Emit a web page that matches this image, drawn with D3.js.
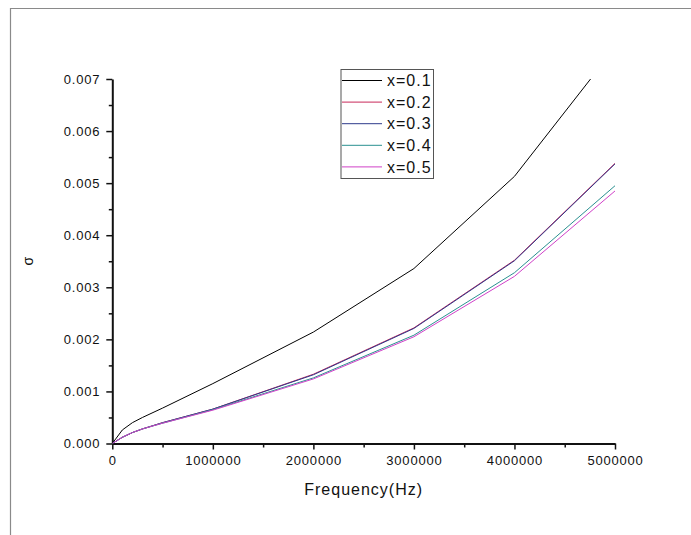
<!DOCTYPE html>
<html>
<head>
<meta charset="utf-8">
<script src="https://cdn.jsdelivr.net/npm/d3@7"></script>
<style>
  html, body { margin: 0; padding: 0; background: #fff; }
  svg text { font-family: "Liberation Sans", Arial, sans-serif; fill: #111; }
</style>
</head>
<body>
<svg id="chart" width="691" height="535"></svg>
<script>
// frequencies (Hz) shared by all series
const freq = [0, 100000, 200000, 300000, 500000, 1000000, 2000000, 3000000, 4000000, 5000000];

// sigma for each composition
const sigma01 = [0, 0.00026, 0.00040, 0.00050, 0.00068, 0.00115, 0.00214, 0.00336, 0.00513, 0.00760];
const sigma02 = [0, 0.00012, 0.00021, 0.00028, 0.00040, 0.00066, 0.00133, 0.00222, 0.00352, 0.00538];
const sigma03 = [0, 0.00012, 0.00021, 0.00028, 0.00040, 0.00066, 0.00132, 0.00221, 0.00351, 0.00537];
const sigma04 = [0, 0.00012, 0.00021, 0.00028, 0.00039, 0.00065, 0.00126, 0.00208, 0.00328, 0.00495];
const sigma05 = [0, 0.00012, 0.00021, 0.00028, 0.00039, 0.00064, 0.00124, 0.00205, 0.00321, 0.00485];

const seriesNames = ['x=0.1', 'x=0.2', 'x=0.3', 'x=0.4', 'x=0.5'];
const seriesValues = [sigma01, sigma02, sigma03, sigma04, sigma05];
const seriesColors = ['#000000', '#c8285a', '#2e3a8c', '#2a9090', '#d040c8'];

const xTicks = [0, 1000000, 2000000, 3000000, 4000000, 5000000];
const yTicks = [0, 0.001, 0.002, 0.003, 0.004, 0.005, 0.006, 0.007];

const svg = d3.select('#chart');

const x = d3.scaleLinear().domain([0, 5000000]).range([112.3, 615]);
const y = d3.scaleLinear().domain([0, 0.007]).range([443.5, 79]);

// screenshot frame (top + left edge)
svg.append('line').attr('x1', 10).attr('y1', 8.5).attr('x2', 691).attr('y2', 8.5)
    .attr('stroke', '#8a8a8a').attr('stroke-width', 1.2);
svg.append('line').attr('x1', 10.5).attr('y1', 8).attr('x2', 10.5).attr('y2', 535)
    .attr('stroke', '#8a8a8a').attr('stroke-width', 1.2);

svg.append('clipPath').attr('id', 'plot-clip')
    .append('rect')
    .attr('x', x(0)).attr('y', y(0.007))
    .attr('width', x(5000000) - x(0)).attr('height', y(0) - y(0.007));

// minor ticks
const xMinor = d3.range(0, 5000001, 500000).filter(v => !xTicks.includes(v));
const yMinor = d3.range(0.0005, 0.007, 0.001);

svg.append('g')
    .attr('transform', `translate(0,${y(0)})`)
    .call(d3.axisBottom(x).tickValues(xMinor).tickSize(4).tickFormat(''))
    .call(g => g.select('.domain').remove())
    .selectAll('line').attr('stroke', '#111').attr('stroke-width', 1.5);

svg.append('g')
    .attr('transform', `translate(${x(0)},0)`)
    .call(d3.axisLeft(y).tickValues(yMinor).tickSize(3.5).tickFormat(''))
    .call(g => g.select('.domain').remove())
    .selectAll('line').attr('stroke', '#111').attr('stroke-width', 1.5);

// major axes
const xAxis = svg.append('g')
    .attr('transform', `translate(0,${y(0)})`)
    .call(d3.axisBottom(x).tickValues(xTicks).tickSize(6).tickSizeOuter(0).tickPadding(6)
        .tickFormat(d3.format('d')));
xAxis.select('.domain').attr('stroke', '#111').attr('stroke-width', 2);
xAxis.selectAll('.tick line').attr('stroke', '#111').attr('stroke-width', 1.5);
xAxis.selectAll('text').attr('font-size', 13).attr('letter-spacing', '0.8px')
    .attr('font-family', '"Liberation Sans", Arial, sans-serif').attr('fill', '#111');

const yAxis = svg.append('g')
    .attr('transform', `translate(${x(0)},0)`)
    .call(d3.axisLeft(y).tickValues(yTicks).tickSize(6).tickSizeOuter(0).tickPadding(6)
        .tickFormat(d3.format('.3f')));
yAxis.select('.domain').attr('stroke', '#111').attr('stroke-width', 2);
yAxis.selectAll('.tick line').attr('stroke', '#111').attr('stroke-width', 1.5);
yAxis.selectAll('text').attr('font-size', 13).attr('letter-spacing', '0.8px')
    .attr('font-family', '"Liberation Sans", Arial, sans-serif').attr('fill', '#111');

// axis titles
svg.append('text')
    .attr('x', (x(0) + x(5000000)) / 2).attr('y', 495)
    .attr('text-anchor', 'middle')
    .attr('font-size', 16).attr('letter-spacing', '1px')
    .text('Frequency(Hz)');

svg.append('text')
    .attr('transform', `translate(33,${(y(0) + y(0.007)) / 2}) rotate(-90)`)
    .attr('text-anchor', 'middle')
    .attr('font-size', 14)
    .text('σ');

// lines
const line = d3.line()
    .x((d, i) => x(freq[i]))
    .y(d => y(d));

const linesG = svg.append('g').attr('clip-path', 'url(#plot-clip)');
linesG.selectAll('path')
    .data(seriesValues)
    .enter().append('path')
    .attr('d', line)
    .attr('fill', 'none')
    .attr('stroke', (d, i) => seriesColors[i])
    .attr('stroke-width', 1);

// legend
const legend = svg.append('g').attr('transform', 'translate(341,69.5)');
legend.append('rect')
    .attr('width', 92.5).attr('height', 109)
    .attr('fill', '#fff').attr('stroke', '#555').attr('stroke-width', 1);

const rowH = 21.6;
const rows = legend.selectAll('g.row')
    .data(seriesNames)
    .enter().append('g')
    .attr('class', 'row')
    .attr('transform', (d, i) => `translate(0,${11 + i * rowH})`);

rows.append('line')
    .attr('x1', 1).attr('x2', 41)
    .attr('stroke', (d, i) => seriesColors[i])
    .attr('stroke-width', 1);

rows.append('text')
    .attr('x', 46).attr('dy', '0.36em')
    .attr('font-size', 16).attr('letter-spacing', '1px')
    .text(d => d);
</script>
</body>
</html>
